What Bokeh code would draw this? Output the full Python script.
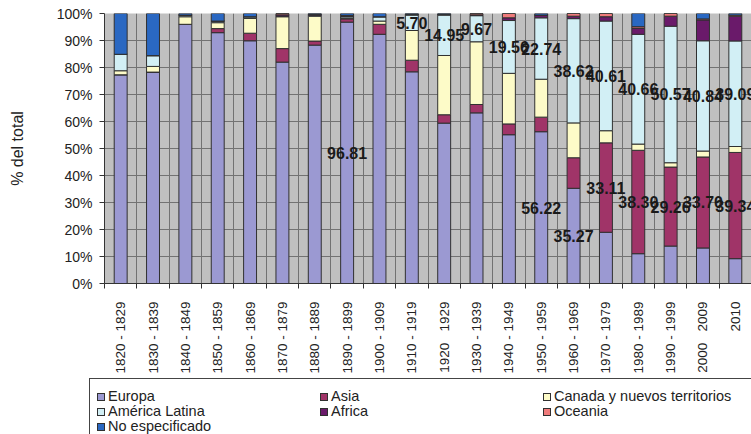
import math
from bokeh.plotting import figure
from bokeh.layouts import column
from bokeh.models import ColumnDataSource, FixedTicker, Range1d, Div
from bokeh.core.properties import value
from bokeh.embed import file_html
from bokeh.resources import INLINE

NB = "\u00a0"
categories = [
    "1820 - 1829", "1830 - 1839", "1840 - 1849", "1850 - 1859", "1860 - 1869",
    "1870 - 1879", "1880 - 1889", "1890 - 1899", "1900 - 1909", "1910 - 1919",
    "1920" + NB * 3 + "1929", "1930 - 1939", "1940 - 1949", "1950 - 1959",
    "1960 - 1969", "1970 - 1979", "1980 - 1989", "1990 - 1999",
    "2000" + NB * 3 + "2009", "2010",
]

series = ["Europa", "Asia", "Canada y nuevos territorios", "América Latina",
          "Africa", "Oceania", "No especificado"]

europa = [77.3, 78.3, 96.0, 92.9, 89.9, 82.0, 88.3, 96.81, 92.3, 78.4,
          59.4, 63.2, 55.1, 56.22, 35.27, 18.98, 11.04, 13.87, 13.16, 9.2]
asia = [0, 0, 0, 1.5, 2.8, 5.0, 1.5, 1.2, 3.7, 4.3,
        3.1, 3.1, 4.0, 5.4, 11.3, 33.11, 38.30, 29.26, 33.70, 39.34]
canada = [1.5, 2.1, 2.8, 2.2, 5.5, 11.8, 9.2, 0.3, 1.2, 11.0,
          21.95, 23.23, 18.74, 14.04, 12.91, 4.5, 2.3, 1.6, 2.2, 2.2]
america_latina = [6.1, 4.0, 0.6, 0.6, 0.6, 0.2, 0.3, 0.5, 1.6, 5.70,
                  14.95, 9.67, 19.56, 22.74, 38.62, 40.61, 40.66, 50.57, 40.84, 39.09]
africa = [0, 0, 0, 0, 0, 0.5, 0.4, 0.3, 0, 0.3,
          0.3, 0.3, 1.0, 1.0, 0.9, 1.6, 2.2, 3.7, 7.7, 9.17]
oceania = [0, 0, 0, 0, 0, 0.5, 0, 0.2, 0, 0,
           0, 0.5, 1.6, 0, 1.0, 1.2, 0.6, 1.0, 0.4, 0.4]
no_especificado = [15.1, 15.6, 0.6, 2.8, 1.2, 0, 0.3, 0.69, 1.2, 0.3,
                   0.3, 0, 0, 0.6, 0, 0, 4.9, 0, 2.0, 0.6]

values = [europa, asia, canada, america_latina, africa, oceania, no_especificado]
colors = ["#9b99d2", "#a03468", "#fdfbc8", "#d2eff5", "#6a1a6a", "#f07b7b", "#2a68c2"]

# which bars carry a data label, per series
labeled = {
    "Europa": [7, 13, 14],
    "Asia": [15, 16, 17, 18, 19],
    "América Latina": [9, 10, 11, 12, 13, 14, 15, 16, 17, 18, 19],
}

y_ticks = list(range(0, 101, 10))
y_tick_labels = [f"{t}%" for t in y_ticks]

n = len(categories)
xs = [i + 0.5 for i in range(n)]

data = {"x": xs}
for name, vals in zip(series, values):
    data[name] = vals
source = ColumnDataSource(data)

p = figure(width=751, height=376, x_range=Range1d(0, n), y_range=Range1d(0, 100),
           output_backend="svg", toolbar_location=None,
           min_border_left=104, min_border_right=0, min_border_top=13, min_border_bottom=92)
p.background_fill_color = "#c0c0c0"
p.border_fill_color = "white"
p.outline_line_color = None

p.vbar_stack(series, x="x", width=0.4, source=source, color=colors,
             line_color="#303030", line_width=1)

# data labels at segment middles
lx, ly, lt = [], [], []
for k, name in enumerate(series):
    if name not in labeled:
        continue
    for i in labeled[name]:
        bottom = sum(values[j][i] for j in range(k))
        v = values[k][i]
        lx.append(xs[i])
        ly.append(bottom + v / 2)
        lt.append(f"{v:.2f}")
p.text(x="x", y="y", text="t", source=ColumnDataSource(dict(x=lx, y=ly, t=lt)),
       text_font=value("Liberation Sans"), text_font_style="bold", text_font_size="16px",
       text_align="center", text_baseline="middle", text_color="#1a1a1a")

# grids
p.xgrid.ticker = FixedTicker(ticks=list(range(n + 1)))
p.ygrid.ticker = FixedTicker(ticks=y_ticks)
for g in (p.xgrid[0], p.ygrid[0]):
    g.grid_line_color = "#727272"
    g.grid_line_width = 1
    g.grid_line_alpha = 1

# x axis
xa = p.xaxis[0]
xa.ticker = FixedTicker(ticks=xs, minor_ticks=list(range(n + 1)))
xa.major_label_overrides = {x: c for x, c in zip(xs, categories)}
xa.major_tick_line_color = None
xa.major_tick_out = 0
xa.major_tick_in = 0
xa.minor_tick_line_color = "#333333"
xa.minor_tick_out = 5
xa.minor_tick_in = 0
xa.axis_line_color = "#333333"
xa.major_label_orientation = math.pi / 2
xa.major_label_standoff = 13
xa.major_label_text_font = "Liberation Sans"
xa.major_label_text_font_size = "13.5px"
xa.major_label_text_color = "#222222"

# y axis
ya = p.yaxis[0]
ya.ticker = FixedTicker(ticks=y_ticks)
ya.major_label_overrides = {t: s for t, s in zip(y_ticks, y_tick_labels)}
ya.major_tick_out = 5
ya.major_tick_in = 0
ya.major_tick_line_color = "#333333"
ya.minor_tick_line_color = None
ya.axis_line_color = "#333333"
ya.major_label_standoff = 7
ya.major_label_text_font = "Liberation Sans"
ya.major_label_text_font_size = "14px"
ya.major_label_text_color = "#222222"
ya.axis_label = "% del total"
ya.axis_label_text_font = "Liberation Sans"
ya.axis_label_text_font_size = "16px"
ya.axis_label_text_font_style = "normal"
ya.axis_label_text_color = "#222222"
ya.axis_label_standoff = 28

# legend strip (3 columns, row-major, same order and colours as the stack)
cells = []
for s, c in zip(series, colors):
    cells.append(
        '<div style="display:flex;align-items:center;height:15px;white-space:nowrap;">'
        f'<span style="display:inline-block;width:8px;height:8px;border:1px solid #303030;'
        f'background:{c};margin-right:3px;flex:none;"></span>{s}</div>'
    )
legend_html = (
    '<div style="position:relative;width:751px;height:58px;overflow:hidden;'
    "font-family:'Liberation Sans',Arial,sans-serif;font-size:14.5px;line-height:15px;color:#222;\">"
    '<div style="position:absolute;left:89px;top:2px;width:700px;height:80px;'
    'border:1px solid #444;background:white;box-sizing:border-box;padding:10px 0 0 7px;">'
    '<div style="display:grid;grid-template-columns:223px 223px 223px;grid-auto-rows:15px;">'
    + "".join(cells) + "</div></div></div>"
)
legend_div = Div(text=legend_html, width=751, height=58, margin=0)

open("out.html", "w").write(file_html(column(p, legend_div, spacing=0), INLINE))
